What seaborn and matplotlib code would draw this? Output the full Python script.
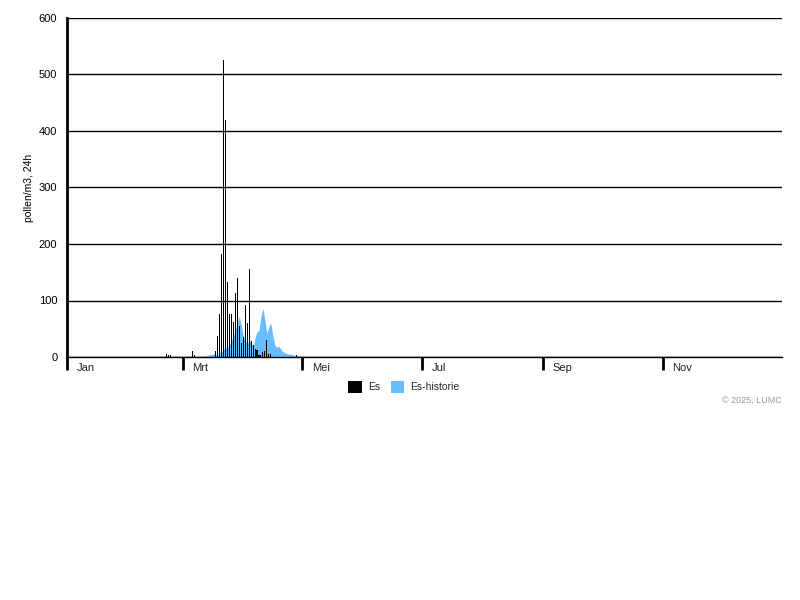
import numpy as np
import pandas as pd
import matplotlib
matplotlib.use("Agg")
import matplotlib.pyplot as plt
import matplotlib.transforms as mtransforms
from matplotlib.patches import Patch
import seaborn as sns

# Month ticks (day of year where each labelled month starts)
month_labels = ["Jan", "Mrt", "Mei", "Jul", "Sep", "Nov"]
month_start_days = [0, 59, 120, 181, 243, 304]

# Daily ash pollen counts (day of year, pollen/m3 per 24h)
es_days = [51, 52, 53, 64, 65,
           76, 77, 78, 79, 80, 81, 82, 83, 84, 85, 86, 87, 88, 89, 90,
           91, 92, 93, 94, 95, 96, 97, 98, 99, 100, 101, 102, 103, 104,
           117]
es_counts = [6, 3, 3, 11, 3,
             10, 37, 76, 182, 525, 420, 132, 76, 76, 62, 113, 140, 55, 25, 35,
             92, 60, 156, 28, 21, 14, 12, 4, 4, 8, 10, 30, 5, 6,
             3]

# Historical daily average for ash, starting at hist_start_day
hist_start_day = 15
hist_es = [1, 1, 1, 1, 1, 1, 1, 1, 1, 1, 1, 1, 1, 1, 1, 1, 1,
           1, 1, 1, 1, 1, 1, 1, 1, 1, 1, 1, 1, 1, 1, 1, 1, 1,
           0, 0, 1, 0, 0, 1, 1, 1, 1,
           1, 1, 1, 1, 1, 1, 1, 1, 1, 1, 1, 1, 1,
           2, 3, 4, 5, 6, 4, 4, 7, 11, 14, 16, 18, 22, 29, 37, 48, 62, 72,
           54, 37, 29, 23, 29, 25, 16, 34, 45, 47, 72, 86, 66, 42, 54, 60,
           40, 22, 17, 19, 15, 10, 8, 6, 5, 5, 4, 3, 3, 2, 2, 1, 1, 1, 1, 0]

y_ticks = [0, 100, 200, 300, 400, 500, 600]

BLUE = "#66bdff"

sns.set_theme(style="white")
plt.rcParams["font.family"] = ["Liberation Sans", "DejaVu Sans"]

fig = plt.figure(figsize=(8, 6), dpi=100)
ax = fig.add_axes([67 / 800, 1 - 357 / 600, 715 / 800, 339 / 600])

hist_days = np.arange(hist_start_day, hist_start_day + len(hist_es))
ax.fill_between(hist_days, hist_es, color=BLUE, linewidth=0, zorder=1)

df = pd.DataFrame({"day": es_days, "count": es_counts})
sns.barplot(data=df, x="day", y="count", native_scale=True, width=0.55,
            color="black", saturation=1, linewidth=0, errorbar=None,
            ax=ax, zorder=3)

ax.set_xlim(0, 365)
ax.set_ylim(0, 600)
ax.set_xlabel("")
ax.set_ylabel("pollen/m3, 24h", fontsize=7.5, color="black")
ax.yaxis.set_label_coords((34 - 67) / 715, 0.5)

# horizontal grid
ax.set_yticks(y_ticks)
ax.set_yticklabels([str(v) for v in y_ticks])
ax.yaxis.grid(True, color="black", linewidth=1)
ax.xaxis.grid(False)
ax.tick_params(axis="y", length=0, pad=7, labelsize=8, labelcolor="black")

# month ticks: long dark marks with labels beside them
ax.set_xticks(month_start_days)
ax.set_xticklabels(month_labels)
ax.tick_params(axis="x", direction="out", length=9.5, width=2, color="black",
               pad=-5, labelsize=8, labelcolor="#222222", bottom=True)
shift = mtransforms.ScaledTranslation(7 / 72, 0, fig.dpi_scale_trans)
for lbl in ax.get_xticklabels():
    lbl.set_horizontalalignment("left")
    lbl.set_transform(lbl.get_transform() + shift)

for side in ["top", "right"]:
    ax.spines[side].set_visible(False)
ax.spines["left"].set_color("black")
ax.spines["left"].set_linewidth(2)
ax.spines["bottom"].set_color("black")
ax.spines["bottom"].set_linewidth(1)

handles = [Patch(facecolor="black", edgecolor="none"),
           Patch(facecolor=BLUE, edgecolor="none")]
fig.legend(handles, ["Es", "Es-historie"], loc="center",
           bbox_to_anchor=(0.505, 1 - 387 / 600), ncol=2, frameon=False,
           fontsize=7.5, handlelength=1.3, handleheight=1.3,
           handletextpad=0.6, columnspacing=1.0)

fig.text(782 / 800, 1 - 400 / 600, "\u00a9 2025, LUMC", ha="right",
         va="center", fontsize=6.5, color="#999999")

fig.savefig("out.png", dpi=100, facecolor="white")
